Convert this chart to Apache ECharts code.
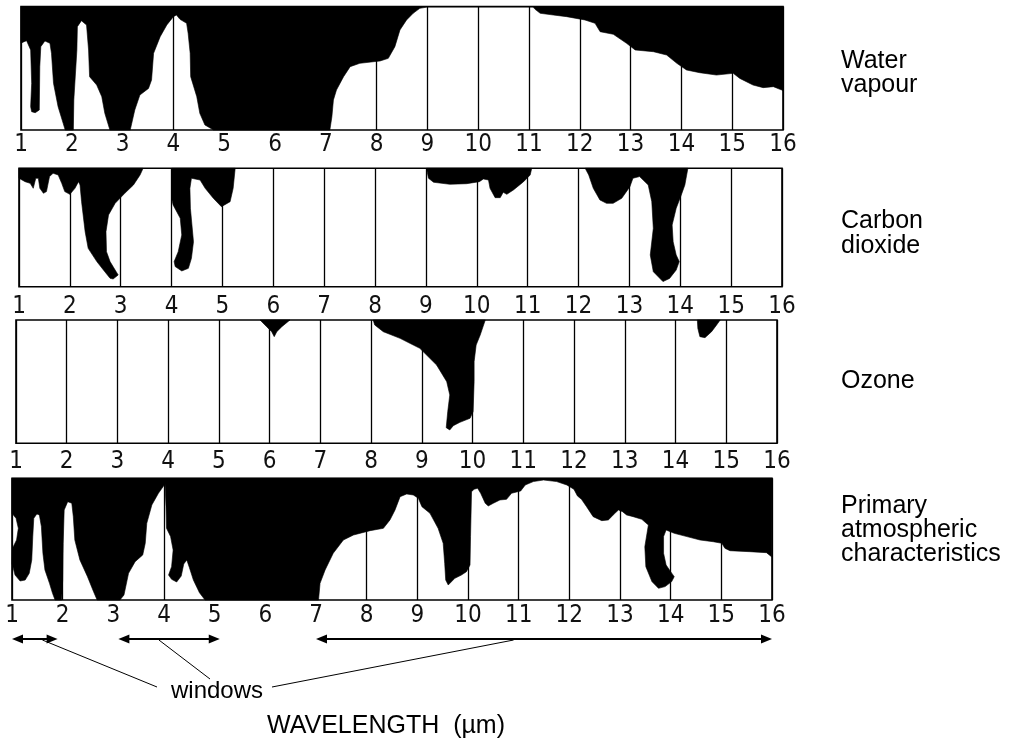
<!DOCTYPE html>
<html><head><meta charset="utf-8">
<script src="https://cdn.jsdelivr.net/npm/echarts@6/dist/echarts.min.js"></script>
<style>html,body{margin:0;padding:0;background:#fff}#c{width:1009px;height:748px}</style>
</head><body><div id="c"></div>
<script>
// Wavelength tick labels (µm)
const wavelengthTicks = [1,2,3,4,5,6,7,8,9,10,11,12,13,14,15,16];
const panelNames = [['Water','vapour'],['Carbon','dioxide'],['Ozone'],['Primary','atmospheric','characteristics']];
// Absorption regions: [wavelength µm, depth % from top of panel]
const waterVapour = [[
 [1,0],[1.0,29.8],[1.06,28.5],[1.11,27.7],[1.19,35.2],[1.21,62.2],[1.19,81.1],[1.21,85.2],[1.28,86],[1.36,83.8],[1.37,48.7],[1.39,32.5],[1.47,27.9],[1.57,29.8],[1.6,37.9],[1.64,62.2],[1.73,81.1],[1.83,94.6],[1.87,100],[2.03,100],[2.04,75.7],[2.1,35.2],[2.11,16.3],[2.19,11.5],[2.29,15],[2.33,35.2],[2.35,56.8],[2.49,63.6],[2.59,73],[2.65,86.5],[2.75,100],[3.15,100],[3.24,83.8],[3.34,71.7],[3.51,66.3],[3.57,59.5],[3.61,37.9],[3.74,24.4],[3.87,15],[4.0,8.2],[4.06,6.9],[4.13,10.4],[4.26,13.6],[4.29,21.7],[4.33,37.9],[4.34,56.8],[4.46,73],[4.52,86.5],[4.62,95.9],[4.79,100],[7.08,100],[7.12,89.2],[7.15,75.7],[7.21,67.6],[7.35,56.8],[7.48,48.7],[7.67,46],[8.07,44.1],[8.23,42],[8.36,32.5],[8.46,19],[8.59,10.9],[8.72,5.5],[8.85,1.5],[8.99,0.5],[11.08,0.5],[11.12,2.3],[11.22,5.5],[11.48,6.9],[11.74,8.2],[12.1,10.9],[12.3,13.6],[12.4,20.4],[12.66,22.5],[12.92,29.8],[13.09,35.2],[13.45,36.6],[13.71,39.3],[13.91,46],[14.1,51.4],[14.36,53.6],[14.69,55.5],[15.02,54.1],[15.15,58.2],[15.41,63.6],[15.61,65.7],[15.81,64.9],[15.94,67.1],[16,68],[16,0]
]];
const carbonDioxide = [
 [[1,0],[1,8.4],[1.12,11.3],[1.22,12.7],[1.28,16.9],[1.33,8.4],[1.38,8.4],[1.41,16.9],[1.48,21.1],[1.54,19.7],[1.6,7],[1.67,4.2],[1.77,5.6],[1.84,12.7],[1.9,19.7],[2.0,22],[2.1,16.9],[2.17,11.3],[2.2,14.1],[2.23,28.2],[2.3,53.5],[2.36,67.6],[2.53,78.8],[2.66,85.9],[2.79,92.9],[2.85,93.5],[2.95,90.1],[2.89,85.9],[2.79,78.8],[2.72,70.4],[2.71,53.5],[2.76,39.4],[2.89,29.6],[3.08,21.1],[3.25,14.1],[3.38,5.6],[3.44,0]],
 [[4.0,0],[4.0,25.3],[4.03,31],[4.17,42.2],[4.2,56.3],[4.13,70.4],[4.05,78.8],[4.07,83],[4.2,86.7],[4.33,84.5],[4.39,76],[4.43,62],[4.4,47.9],[4.37,33.8],[4.36,16.9],[4.39,8.4],[4.56,9.9],[4.66,16.9],[4.82,25.3],[4.98,32.4],[5.15,28.2],[5.21,16.9],[5.25,0]],
 [[9.01,0],[9.05,8.4],[9.15,11.8],[9.47,13.5],[9.8,13],[10.05,11.3],[10.13,9],[10.23,9.9],[10.26,16.9],[10.36,24.8],[10.46,24.8],[10.52,20.3],[10.59,22],[10.72,18.3],[10.92,11.3],[11.05,5.6],[11.08,0]],
 [[12.13,0],[12.2,5.6],[12.29,16.9],[12.42,26.7],[12.55,29.6],[12.68,29.6],[12.85,25.3],[13.01,15.5],[13.07,8.4],[13.2,7],[13.37,14.1],[13.44,28.2],[13.47,50.7],[13.41,73.2],[13.47,87.3],[13.66,95.7],[13.79,93],[13.92,85.9],[13.98,78.8],[13.92,73.2],[13.86,62],[13.84,47.9],[13.92,33.8],[14.02,22.5],[14.09,14.1],[14.15,0]]
];
const ozone = [
 [[5.81,0],[5.94,5.4],[6.04,9.5],[6.09,13.5],[6.14,9.5],[6.24,5.4],[6.4,0]],
 [[8.04,0],[8.07,4],[8.24,9.5],[8.57,14.9],[8.83,20.3],[8.96,23],[9.29,36.5],[9.49,50],[9.55,60.8],[9.51,74.3],[9.48,87.3],[9.55,89.2],[9.62,85.7],[9.75,83],[9.95,79.7],[10.01,74.3],[10.03,50],[10.03,33.8],[10.07,20.3],[10.15,12.2],[10.25,0]],
 [[14.43,0],[14.44,6.8],[14.48,13.5],[14.58,14.3],[14.71,9.5],[14.81,4],[14.88,0]]
];
const primary = [[
 [1,0],[1.0,28.8],[1.08,32.9],[1.125,41.1],[1.09,50.7],[1.01,57.5],[1.0,69.9],[1.06,79.5],[1.16,84.4],[1.26,83.6],[1.34,78.1],[1.39,67.1],[1.41,47.9],[1.43,32.9],[1.49,29.3],[1.54,30.1],[1.58,39.7],[1.61,61.6],[1.65,75.3],[1.74,86.3],[1.8,94.5],[1.85,100],[1.98,100],[2.0,83.6],[2.01,53.4],[2.03,26],[2.1,19.2],[2.18,20.5],[2.21,31.5],[2.24,50.7],[2.34,67.1],[2.49,80.8],[2.61,93.2],[2.68,100],[3.13,100],[3.21,95.9],[3.3,78.1],[3.43,68.5],[3.58,63],[3.63,53.4],[3.66,37],[3.76,21.9],[3.89,12.3],[4.02,4.7],[4.04,23.3],[4.05,41.1],[4.13,47.9],[4.18,58.9],[4.15,72.6],[4.09,79.5],[4.15,83],[4.25,85.2],[4.34,80.3],[4.39,70.4],[4.45,67.1],[4.5,73.2],[4.58,83.6],[4.7,94],[4.81,100],[7.05,100],[7.08,86.3],[7.18,75.3],[7.34,61.6],[7.54,50.7],[7.74,46.6],[8.07,43],[8.33,41.1],[8.46,34.2],[8.56,26],[8.66,15.1],[8.79,12.9],[8.92,13.7],[9.02,16.4],[9.09,23.3],[9.25,28.8],[9.41,41.1],[9.51,53.4],[9.54,69.9],[9.56,83.6],[9.61,87.7],[9.74,82.2],[9.87,79.5],[9.97,76.7],[10.04,71.2],[10.05,47.9],[10.07,11],[10.12,9],[10.19,8.2],[10.25,12.3],[10.34,20.5],[10.4,22.7],[10.5,20.5],[10.63,17.8],[10.76,17.3],[10.86,12.3],[11.04,10.4],[11.13,5.5],[11.29,2.7],[11.49,1.4],[11.75,2.7],[11.95,5.5],[12.09,9],[12.16,14.5],[12.24,17.3],[12.34,23.3],[12.47,31.5],[12.64,34.8],[12.77,34.2],[12.9,28.8],[12.97,26],[13.05,27.4],[13.13,30.1],[13.26,31.5],[13.43,33.7],[13.56,38.4],[13.49,56.2],[13.51,72.6],[13.63,84.9],[13.76,90.4],[13.89,89],[14.02,84.9],[14.07,80.8],[14.0,76.7],[13.91,71.2],[13.86,61.6],[13.86,47.9],[13.91,42.5],[14.07,45.2],[14.32,47.9],[14.58,50.7],[14.84,52.1],[15.01,53.4],[15.07,57.5],[15.17,59.5],[15.56,60.3],[15.89,61.1],[15.99,64.4],[16,0]
]];
// Atmospheric windows (µm) and where the "windows" leaders meet each arrow
const windowRanges = [[1,1.9],[3.1,5.1],[7,16]];
const leaderAnchors = [1.6,3.9,10.9];

const panels = [waterVapour, carbonDioxide, ozone, primary];
const grids = [
  {left:21, top:6.5, width:762, height:123.5, margin:3},
  {left:19, top:168.3, width:763, height:118.4, margin:8},
  {left:16, top:320, width:761, height:123.3, margin:6},
  {left:12, top:478.3, width:760, height:121.7, margin:4}
];
const tickFont = "'Liberation Sans Narrow','DejaVu Sans Condensed','Liberation Sans',sans-serif";
const textFont = "'Liberation Sans',Arial,sans-serif";

const chart = echarts.init(document.getElementById('c'), null, {renderer:'canvas'});
const option = {
  animation:false,
  backgroundColor:'#fff',
  grid: grids.map(g => ({left:g.left, top:g.top, width:g.width, height:g.height, show:true, borderColor:'#000', borderWidth:1.6, backgroundColor:'#fff'})),
  xAxis: grids.map((g,i) => ({
    gridIndex:i, type:'value', min:1, max:16, interval:1,
    axisLine:{show:false}, axisTick:{show:false},
    splitLine:{show:true, lineStyle:{color:'#000', width:1.3}},
    axisLabel:{show:true, margin:g.margin, fontSize:24, fontFamily:tickFont, color:'#111',
      formatter: v => String(wavelengthTicks[Math.round(v)-1])}
  })),
  yAxis: grids.map((g,i) => ({gridIndex:i, type:'value', min:0, max:100, inverse:true, show:false})),
  series: panels.map((polys,i) => ({
    type:'custom', xAxisIndex:i, yAxisIndex:i, silent:true,
    data: polys.map(p => p[0]),
    renderItem: function(params, api) {
      const pts = polys[params.dataIndex].map(pt => api.coord(pt));
      return {type:'polygon', shape:{points:pts}, style:{fill:'#000', stroke:'#000', lineWidth:0.6}};
    }
  }))
};
chart.setOption(option);

// Annotations
const g = [];
const nameLines = [[74,98],[234,259],[394],[519,543,567]];
panelNames.forEach((lines,i) => lines.forEach((t,j) => {
  g.push({type:'text', x:841, y:nameLines[i][j], style:{text:t, font:'25px '+textFont, fill:'#000', align:'left', verticalAlign:'bottom'}});
}));
const ay = 639;
const px = w => chart.convertToPixel({xAxisIndex:3}, w);
windowRanges.forEach(r => {
  const x1 = px(r[0]), x2 = px(r[1]);
  g.push({type:'line', shape:{x1:x1+6, y1:ay, x2:x2-6, y2:ay}, style:{stroke:'#000', lineWidth:2.2}});
  g.push({type:'polygon', shape:{points:[[x1,ay],[x1+11,ay-4.5],[x1+11,ay+4.5]]}, style:{fill:'#000'}});
  g.push({type:'polygon', shape:{points:[[x2,ay],[x2-11,ay-4.5],[x2-11,ay+4.5]]}, style:{fill:'#000'}});
});
const leaderEnds = [[157,687],[210,679],[272,687]];
leaderAnchors.forEach((w,i) => {
  g.push({type:'line', shape:{x1:px(w), y1:ay+1, x2:leaderEnds[i][0], y2:leaderEnds[i][1]}, style:{stroke:'#000', lineWidth:1}});
});
g.push({type:'text', x:217, y:691, style:{text:'windows', font:'24px '+textFont, fill:'#000', align:'center', verticalAlign:'middle'}});
g.push({type:'text', x:386, y:726, style:{text:'WAVELENGTH  (µm)', font:'25px '+textFont, fill:'#000', align:'center', verticalAlign:'middle'}});
chart.setOption({graphic:g});
</script>
</body></html>
